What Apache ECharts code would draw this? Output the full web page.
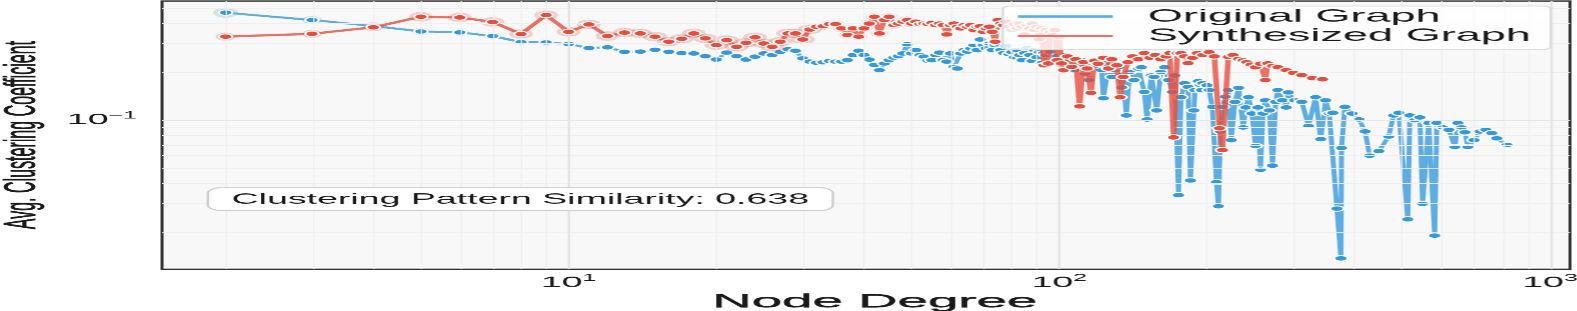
<!DOCTYPE html>
<html>
<head>
<meta charset="utf-8">
<script src="https://cdn.jsdelivr.net/npm/echarts@6/dist/echarts.min.js"></script>
<style>
html,body{margin:0;padding:0;background:#fff;overflow:hidden;}
#chart{width:630.8px;height:311px;transform:scaleX(2.5);transform-origin:0 0;}
</style>
</head>
<body>
<div id="chart"></div>
<script>
// ---------------- data ----------------
const origDegrees = [2,3,4,5,6,7,8,9,10,11,12,13,14,15,16,17,18,19,20,21,22,23,24,25,26,27,28,29,30,
  31,32,33,34,35,36,37,38,39,40,41,42,43,44,45,46,47,48,49,50,51,52,53,54,55,56,57,58,59,60,
  61,62,63,64,65,66,67,68,69,70,71,72,73,74,75,76,77,78,79,80,81,82,83,84,85,86,87,88,89,90,
  91,92,93,94,95,96,97,98,99,100,
  101,103,105,107,109,111,113,115,117,118,120,122,123,126,128,130,132,134,135,137,139,142,145,147,149,
  151,154,156,158,161,164,167,170,172,175,177,180,183,185,188,189,192,195,196,200,202,205,209,211,213,
  215,218,221,224,228,232,237,240,243,247,251,254,257,260,263,268,272,276,279,285,290,293,302,312,322,
  333,341,349,355,361,368,375,376,382,395,408,420,429,448,469,480,492,513,518,530,543,550,566,582,588,
  605,622,640,649,660,671,680,700,720,740,761,779,817];
const origCC = [0.469,0.422,0.387,0.358,0.353,0.335,0.307,0.306,0.299,0.282,0.285,0.267,0.268,0.275,0.267,0.262,0.261,0.251,0.239,0.264,0.251,0.239,0.249,0.261,0.255,0.267,0.277,0.271,0.243,
  0.232,0.228,0.230,0.234,0.232,0.232,0.237,0.255,0.271,0.255,0.239,0.221,0.205,0.226,0.237,0.246,0.251,0.261,0.298,0.261,0.274,0.255,0.249,0.235,0.237,0.255,0.264,0.237,0.232,0.261,
  0.215,0.210,0.261,0.274,0.268,0.280,0.294,0.274,0.319,0.294,0.281,0.301,0.274,0.294,0.301,0.274,0.262,0.290,0.258,0.266,0.247,0.274,0.255,0.237,0.262,0.282,0.255,0.234,0.274,0.247,
  0.266,0.227,0.262,0.255,0.221,0.266,0.234,0.224,0.251,0.221,
  0.221,0.255,0.237,0.205,0.240,0.237,0.195,0.178,0.225,0.214,0.230,0.205,0.137,0.220,0.186,0.205,0.214,0.160,0.186,0.107,0.200,0.178,0.210,0.214,0.150,
  0.101,0.190,0.186,0.115,0.200,0.214,0.178,0.150,0.190,0.034,0.139,0.170,0.161,0.042,0.115,0.154,0.175,0.154,0.170,0.165,0.154,0.121,0.041,0.029,0.085,
  0.121,0.140,0.154,0.075,0.130,0.159,0.090,0.120,0.139,0.110,0.069,0.120,0.049,0.110,0.133,0.115,0.052,0.130,0.154,0.133,0.120,0.149,0.133,0.130,0.092,
  0.139,0.076,0.133,0.110,0.111,0.028,0.0137,0.067,0.121,0.110,0.101,0.085,0.060,0.064,0.079,0.107,0.111,0.024,0.107,0.100,0.104,0.030,0.096,0.019,0.096,
  0.090,0.087,0.068,0.096,0.090,0.084,0.068,0.075,0.085,0.087,0.083,0.077,0.070];

const synDegrees = [2,3,4,5,6,7,8,9,10,11,12,13,14,15,16,17,18,19,20,21,22,23,24,25,26,27,28,29,30,
  31,32,33,34,35,36,37,38,39,40,41,42,43,44,45,46,47,48,49,50,51,52,53,54,55,56,57,58,59,60,
  61,62,63,64,65,66,67,68,69,70,71,72,73,74,75,76,77,78,79,80,81,82,83,84,85,86,87,88,89,90,
  91,92,93,94,95,96,97,98,99,100,
  101,102,104,106,108,110,112,114,116,118,120,123,126,128,131,133,135,138,141,145,149,153,157,161,165,
  168,171,174,177,180,183,187,191,196,202,207,212,215,221,226,232,237,241,246,251,257,263,266,272,279,
  290,300,312,328,344];
const synCC = [0.332,0.346,0.380,0.442,0.438,0.410,0.345,0.453,0.356,0.396,0.335,0.352,0.348,0.332,0.309,0.322,0.348,0.324,0.294,0.316,0.287,0.304,0.329,0.301,0.287,0.309,0.348,0.348,0.319,
  0.368,0.383,0.386,0.398,0.398,0.374,0.340,0.374,0.332,0.374,0.401,0.442,0.348,0.422,0.442,0.392,0.401,0.412,0.422,0.401,0.412,0.398,0.401,0.398,0.405,0.392,0.401,0.392,0.343,0.392,
  0.401,0.383,0.374,0.392,0.383,0.392,0.365,0.383,0.386,0.356,0.374,0.383,0.356,0.309,0.422,0.401,0.392,0.412,0.383,0.365,0.398,0.374,0.401,0.383,0.343,0.392,0.374,0.401,0.365,0.383,
  0.320,0.374,0.220,0.365,0.226,0.356,0.340,0.365,0.237,0.330,
  0.226,0.205,0.250,0.215,0.240,0.122,0.230,0.210,0.148,0.235,0.225,0.245,0.210,0.240,0.220,0.139,0.186,0.230,0.250,0.240,0.262,0.245,0.255,0.240,0.250,
  0.262,0.078,0.262,0.262,0.250,0.227,0.245,0.262,0.255,0.266,0.250,0.089,0.065,0.248,0.255,0.241,0.236,0.230,0.222,0.214,0.225,0.178,0.226,0.218,0.214,
  0.205,0.197,0.191,0.183,0.180];

const similarity = 0.638;
const xMajorTicks = [10, 100, 1000];
const yMajorTicks = [0.1];
const minorMultipliers = [2,3,4,5,6,7,8,9];
const xRange = [1.484, 1098.5];
const yRange = [0.01172, 0.5545];
const xTitle = 'Node Degree';
const yTitle = 'Avg. Clustering Coefficient';
const seriesNames = ['Original Graph', 'Synthesized Graph'];

// ---------------- build ----------------
const FONT = '"Liberation Sans", Arial, Helvetica, sans-serif';
const origData = origDegrees.map((d, i) => [d, origCC[i]]);
const synData = synDegrees.map((d, i) => [d, synCC[i]]);

const xMinor = [], yMinor = [];
[1, 10, 100].forEach(dec => minorMultipliers.forEach(m => { const v = dec * m; if (v > xRange[0] && v < xRange[1]) xMinor.push(v); }));
[0.01, 0.1].forEach(dec => minorMultipliers.forEach(m => { const v = dec * m; if (v > yRange[0] && v < yRange[1]) yMinor.push(v); }));

function powLabel(v) {
  const e = Math.log10(v), r = Math.round(e);
  if (Math.abs(e - r) > 1e-6) return '';
  return '{b|10}{s|' + (r < 0 ? '\u2212' + (-r) : String(r)) + '}';
}
const labelRich = {
  b: { fontSize: 15, fontFamily: FONT, color: '#1a1a1a', lineHeight: 19 },
  s: { fontSize: 10, fontFamily: FONT, color: '#1a1a1a', verticalAlign: 'top', lineHeight: 10 }
};

const solid = (color, width) => ({ color: color, width: width, type: 'solid' });
const gridLines = []
  .concat(xMinor.map(v => ({ xAxis: v, lineStyle: solid('#eeeeee', 0.5) })))
  .concat(yMinor.map(v => ({ yAxis: v, lineStyle: solid('#efefef', 0.8) })))
  .concat(xMajorTicks.filter(v => v > xRange[0] && v < xRange[1]).map(v => ({ xAxis: v, lineStyle: solid('#e3e3e3', 0.9) })))
  .concat(yMajorTicks.map(v => ({ yAxis: v, lineStyle: solid('#e6e6e6', 1.2) })));

function origHalo(val) {
  const d = val[0];
  if (d <= 2) return 10; if (d <= 3) return 8; if (d <= 4) return 7.5; if (d <= 5) return 7;
  if (d <= 9) return 6.5; return 0;
}
function synHalo(val) {
  const d = val[0];
  if (d <= 4) return 8; if (d <= 31) return 9.5; if (d <= 50) return 7; return 0;
}

const chart = echarts.init(document.getElementById('chart'), null, { renderer: 'canvas', devicePixelRatio: 2.5 });
chart.setOption({
  animation: false,
  backgroundColor: '#ffffff',
  grid: { left: 64.8, right: 3.2, top: 1, bottom: 42, containLabel: false, outerBoundsMode: 'none',
    show: true, backgroundColor: '#f8f8f8', borderColor: '#333333', borderWidth: 1.2 },
  xAxis: {
    type: 'log', logBase: 10, min: xRange[0], max: xRange[1],
    axisLine: { show: false }, axisTick: { show: false }, splitLine: { show: false }, minorSplitLine: { show: false },
    axisLabel: { formatter: powLabel, rich: labelRich, margin: 4, hideOverlap: false }
  },
  yAxis: {
    type: 'log', logBase: 10, min: yRange[0], max: yRange[1],
    axisLine: { show: false }, axisTick: { show: false }, splitLine: { show: false }, minorSplitLine: { show: false },
    axisLabel: { formatter: powLabel, rich: labelRich, margin: 10, hideOverlap: false }
  },
  legend: {
    orient: 'vertical', left: 401, top: 6,
    data: [
      { name: seriesNames[0], icon: 'rect', itemStyle: { color: '#5DADE2', borderWidth: 0 } },
      { name: seriesNames[1], icon: 'rect', itemStyle: { color: '#EC7063', borderWidth: 0 } }
    ],
    itemWidth: 38, itemHeight: 2.4, itemGap: 0.5,
    backgroundColor: 'rgba(255,255,255,0.8)', borderColor: '#dddddd', borderWidth: 1, borderRadius: 3,
    padding: [1, 8, 4, 6],
    textStyle: { fontSize: 18, fontFamily: FONT, color: '#1a1a1a', lineHeight: 19, padding: [0, 0, 0, 9] },
    selectedMode: false, z: 20
  },
  graphic: [{
    type: 'text', x: 9, y: 135, rotation: Math.PI / 2, scaleX: 0.89, z: 30, silent: true,
    style: { text: yTitle, font: '18px ' + FONT, fill: '#1a1a1a', stroke: '#1a1a1a', lineWidth: 0.35,
      align: 'center', verticalAlign: 'middle' }
  }, {
    type: 'text', x: 349.8, y: 302, scaleX: 1.15, z: 30, silent: true,
    style: { text: xTitle, font: '19px ' + FONT, fill: '#1a1a1a', stroke: '#1a1a1a', lineWidth: 0.3,
      align: 'center', verticalAlign: 'middle' }
  }, {
    type: 'text', x: 83.6, y: 188, z: 30, silent: true,
    style: {
      text: 'Clustering Pattern Similarity: ' + similarity.toFixed(3),
      font: '15px ' + FONT, fill: '#1a1a1a',
      backgroundColor: 'rgba(255,255,255,0.92)', borderColor: '#cfcfcf', borderWidth: 1, borderRadius: 5,
      padding: [4, 9, 3, 9], align: 'left', verticalAlign: 'top'
    }
  }],
  series: [
    { name: 'grid', type: 'line', data: [], z: 1, silent: true,
      markLine: { silent: true, symbol: 'none', label: { show: false }, animation: false, data: gridLines } },
    { name: 'origHalo', type: 'scatter', data: origData, z: 2, silent: true, symbol: 'circle', symbolSize: origHalo,
      itemStyle: { color: 'rgba(93,173,226,0.35)' } },
    { name: seriesNames[0], type: 'line', data: origData, z: 3, symbol: 'circle', symbolSize: 5.4, showSymbol: true, showAllSymbol: true,
      lineStyle: { color: '#5DADE2', width: 2 },
      itemStyle: { color: '#3498DB', borderColor: '#ffffff', borderWidth: 0.9 } },
    { name: 'synHalo', type: 'scatter', data: synData, z: 4, silent: true, symbol: 'circle', symbolSize: synHalo,
      itemStyle: { color: 'rgba(231,76,60,0.3)' } },
    { name: seriesNames[1], type: 'line', data: synData, z: 5, symbol: 'circle', symbolSize: 5.4, showSymbol: true, showAllSymbol: true,
      lineStyle: { color: '#E74C3C', width: 2.2, opacity: 0.8 },
      itemStyle: { color: '#E74C3C', borderColor: '#ffffff', borderWidth: 0.9 } }
  ]
});
</script>
</body>
</html>
